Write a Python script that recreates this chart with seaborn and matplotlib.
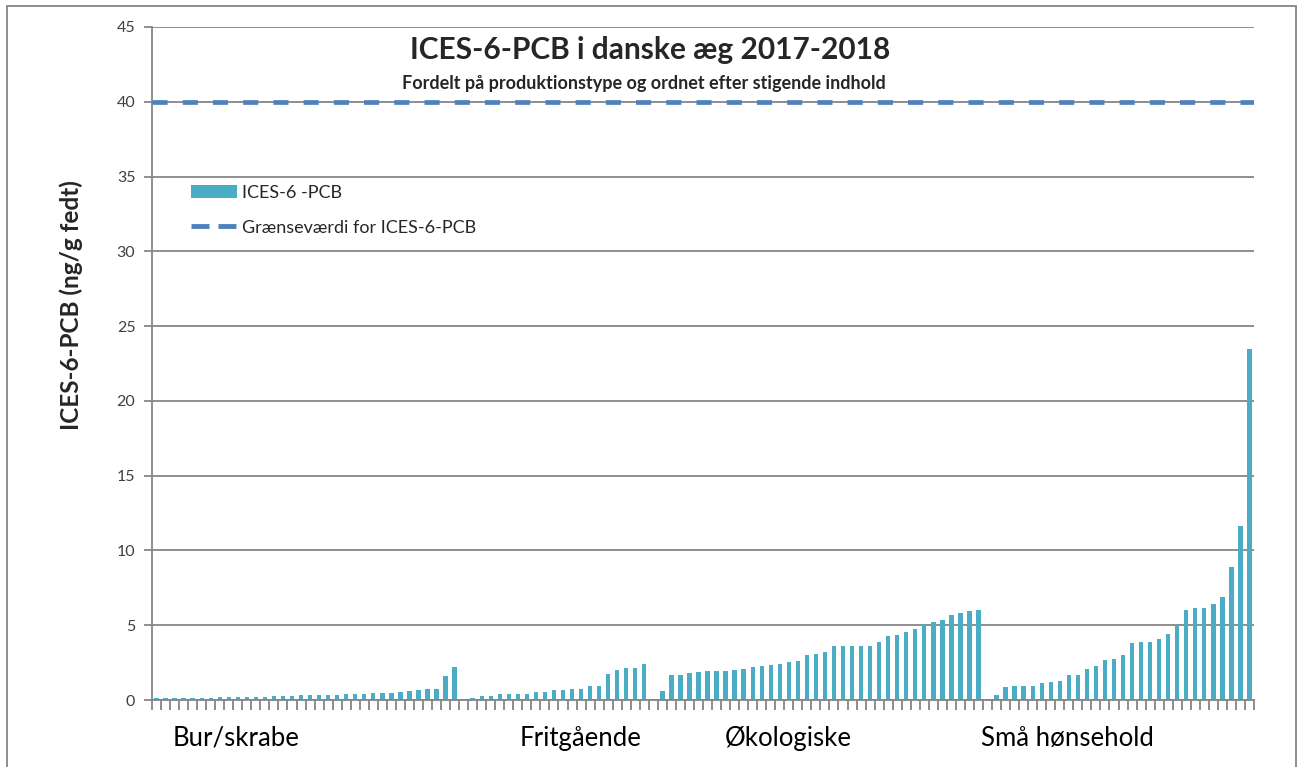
"""ICES-6-PCB i danske aeg 2017-2018, bar chart per production type."""
import matplotlib
matplotlib.use("Agg")
import numpy as np
import pandas as pd
import seaborn as sns
from matplotlib import pyplot as plt
from matplotlib.lines import Line2D
from matplotlib.patches import Patch, Rectangle

# sorted sample values (ng/g fedt) per production type
bur_skrabe = [0.12, 0.12, 0.12, 0.12, 0.12, 0.12, 0.12, 0.18, 0.18, 0.18, 0.18, 0.18, 0.18,
              0.24, 0.24, 0.24, 0.31, 0.31, 0.31, 0.31, 0.31, 0.38, 0.38, 0.38,
              0.47, 0.47, 0.47, 0.53, 0.6, 0.64, 0.71, 0.71, 1.62, 2.2]
fritgaaende = [0.16, 0.27, 0.27, 0.38, 0.38, 0.38, 0.42, 0.56, 0.56, 0.69, 0.69,
               0.73, 0.73, 0.96, 0.96, 1.71, 2.0, 2.11, 2.16, 2.44]
oekologiske = [0.6, 1.67, 1.67, 1.8, 1.87, 1.93, 1.93, 1.93, 1.98, 2.07, 2.2, 2.27,
               2.31, 2.44, 2.53, 2.6, 3.0, 3.07, 3.22, 3.58, 3.58, 3.58, 3.64, 3.64,
               3.87, 4.27, 4.33, 4.56, 4.78, 5.07, 5.24, 5.36, 5.71, 5.82, 5.93, 6.04]
smaa_hoensehold = [0.33, 0.84, 0.96, 0.96, 0.96, 1.13, 1.2, 1.29, 1.69, 1.69, 2.07,
                   2.29, 2.69, 2.73, 3.02, 3.8, 3.89, 3.89, 4.07, 4.42, 5.04, 6.02,
                   6.13, 6.13, 6.42, 6.89, 8.87, 11.65, 23.5]
group_names = ["Bur/skrabe", "Fritgående", "Økologiske", "Små hønsehold"]
LIMIT = 40

BAR_COLOR = "#4BACC6"
LINE_COLOR = "#4F81BD"
GRID_COLOR = "#868686"
TEXT_COLOR = "#000000"

# one blank category between the groups, like in the original sheet
groups = [bur_skrabe, fritgaaende, oekologiske, smaa_hoensehold]
values = []
label_pos = []
for i, g in enumerate(groups):
    if i > 0:
        values.append(np.nan)
    label_pos.append(len(values))
    values.extend(g)
df = pd.DataFrame({"slot": [str(i) for i in range(len(values))], "value": values})

sns.set_theme(style="white")
plt.rcParams["font.family"] = ["Lato", "DejaVu Sans"]

fig = plt.figure(figsize=(12.98, 7.67), dpi=100)
ax = fig.add_axes([152 / 1298, 1 - 700 / 767, 1102 / 1298, 673 / 767])

sns.barplot(data=df, x="slot", y="value", order=df["slot"].tolist(), color=BAR_COLOR,
            saturation=1, width=0.48, linewidth=0, ax=ax)
ax.axhline(LIMIT, color=LINE_COLOR, lw=3.4, ls=(0, (3.2, 3.2)), zorder=3)

n = len(values)
ax.set_xlim(-0.5, n - 0.5)
ax.set_ylim(0, 45)
ax.set_yticks(np.arange(0, 46, 5))
ax.yaxis.grid(True, color=GRID_COLOR, lw=1.3)
ax.set_axisbelow(True)
for s in ["top", "right"]:
    ax.spines[s].set_visible(False)
for s in ["left", "bottom"]:
    ax.spines[s].set_color(GRID_COLOR)
    ax.spines[s].set_linewidth(1.3)

ax.set_xticks([])
ax.set_xticks(np.arange(-0.5, n, 1), minor=True)
ax.tick_params(axis="x", which="minor", bottom=True, length=7, width=1.3, color=GRID_COLOR)
ax.tick_params(axis="y", left=True, length=6, width=1.3, color=GRID_COLOR,
               labelsize=11.5, labelcolor="#404040", pad=6)
ax.set_xlabel("")
ax.set_ylabel("ICES-6-PCB (ng/g fedt)", fontsize=17.5, fontweight="bold")
ax.yaxis.set_label_coords((83 - 152) / 1102, (700 - 305) / 673)

# group names under the axis
label_offsets = [8.8, 12.0, 13.9, 7.8]
for name, pos, off in zip(group_names, label_pos, label_offsets):
    ax.text(pos + off, -2.55, name, ha="center", va="center", fontsize=18.5, color=TEXT_COLOR)

fig.text(650 / 1298, 1 - 50 / 767, "ICES-6-PCB i danske æg 2017-2018", ha="center",
         va="center", fontsize=21.5, fontweight="bold")
fig.text(644 / 1298, 1 - 84 / 767, "Fordelt på produktionstype og ordnet efter stigende indhold",
         ha="center", va="center", fontsize=13, fontweight="bold")

handles = [Patch(facecolor=BAR_COLOR, edgecolor="none"),
           Line2D([0], [0], color=LINE_COLOR, lw=3.5, ls=(0, (3.7, 1.85)))]
ax.legend(handles, ["ICES-6 -PCB", "Grænseværdi for ICES-6-PCB"], loc="upper left",
          bbox_to_anchor=(0.021, 0.79), frameon=False, fontsize=13, handlelength=2.5,
          handleheight=0.8, labelspacing=1.05, handletextpad=0.3)

# chart area border
fig.patches.append(Rectangle((7 / 1298, -0.01), 1289 / 1298, 1 - 6 / 767 + 0.01,
                             transform=fig.transFigure, fill=False, edgecolor=GRID_COLOR,
                             lw=1.3))

fig.savefig("out.png", dpi=100)
